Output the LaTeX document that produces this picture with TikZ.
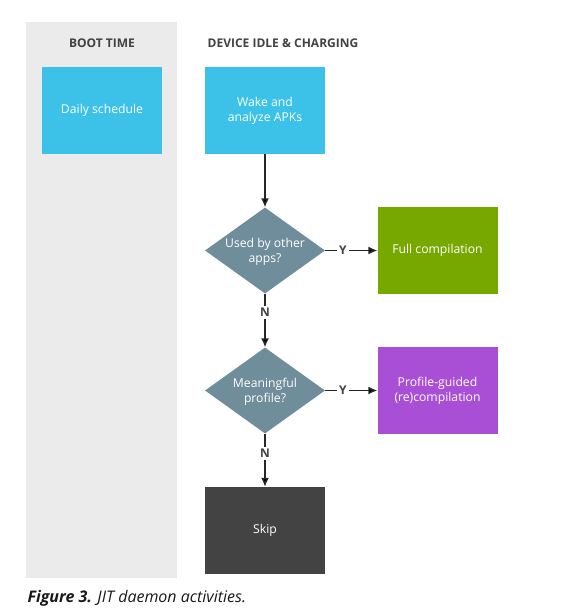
\documentclass[tikz,border=0pt]{standalone}
\usepackage{fontspec}
\setmainfont{Open Sans}
\newfontfamily\capfont{Open Sans}
\usetikzlibrary{arrows.meta,positioning,shapes.geometric}
\definecolor{panelgray}{HTML}{EBEBEB}
\definecolor{stepblue}{HTML}{3CC1E8}
\definecolor{testslate}{HTML}{6F8D9B}
\definecolor{fullgreen}{HTML}{77A800}
\definecolor{pgopurple}{HTML}{A94FD6}
\definecolor{skipgray}{HTML}{434343}
\definecolor{inkdark}{HTML}{424242}
\begin{document}
\begin{tikzpicture}[x=1pt,y=-1pt,node distance=140pt,on grid,
   >={Latex[length=9pt,width=8pt]},
   box/.style={rectangle,minimum width=120pt,minimum height=87pt,inner sep=0pt,
      align=center,text=white,font=\fontsize{12.2}{15}\selectfont},
   test/.style={diamond,fill=testslate,minimum width=120pt,minimum height=86pt,
      inner sep=0pt},
   testtext/.style={align=center,text=white,font=\fontsize{12.2}{15}\selectfont},
   head/.style={text=inkdark,font=\fontsize{12}{14}\selectfont\bfseries},
   yn/.style={fill=white,inner sep=2pt,text=inkdark,font=\fontsize{12}{14}\selectfont\bfseries}]
   \useasboundingbox (0,0) rectangle (561,610);
   % lanes
   \fill[panelgray] (26,22) rectangle (177,578);
   \node [box,fill=stepblue] (wake) at (265,110.5) {Wake and\\analyze APKs};
   \node [box,fill=stepblue] (daily) [left=163pt of wake] {Daily schedule};
   \node [head] (boottime) [above=67.5pt of daily] {BOOT TIME};
   \node [head] (idle) at (283,43) {DEVICE IDLE \& CHARGING};
   % decisions
   \node [test] (used) [below=of wake] {};
   \node [testtext] at ([yshift=-1.5pt]used) {Used by other\\apps?};
   \node [test] (profile) [below=of used] {};
   \node [testtext] at ([yshift=-1.5pt]profile) {Meaningful\\profile?};
   \node [box,fill=fullgreen] (full) [right=172.5pt of used] {Full compilation};
   \node [box,fill=pgopurple] (pgo) [right=172.5pt of profile] {Profile-guided\\(re)compilation};
   \node [box,fill=skipgray] (skip) [below=of profile] {Skip};
   \path[->,draw=black!85,line width=1.4pt]
   (wake) edge (used)
   (used) edge node [yn,pos=.34] {Y} (full)
   (used) edge node [yn,pos=.35] {N} (profile)
   (profile) edge node [yn,pos=.34] {Y} (pgo)
   (profile) edge node [yn,pos=.37] {N} (skip);
   % caption
   \node [anchor=west,text=black!90,font=\capfont\fontsize{16}{19}\selectfont] (caption) at (24,598.5)
      {\textbf{\textit{Figure 3.}} \textit{JIT daemon activities.}};
\end{tikzpicture}
\end{document}
